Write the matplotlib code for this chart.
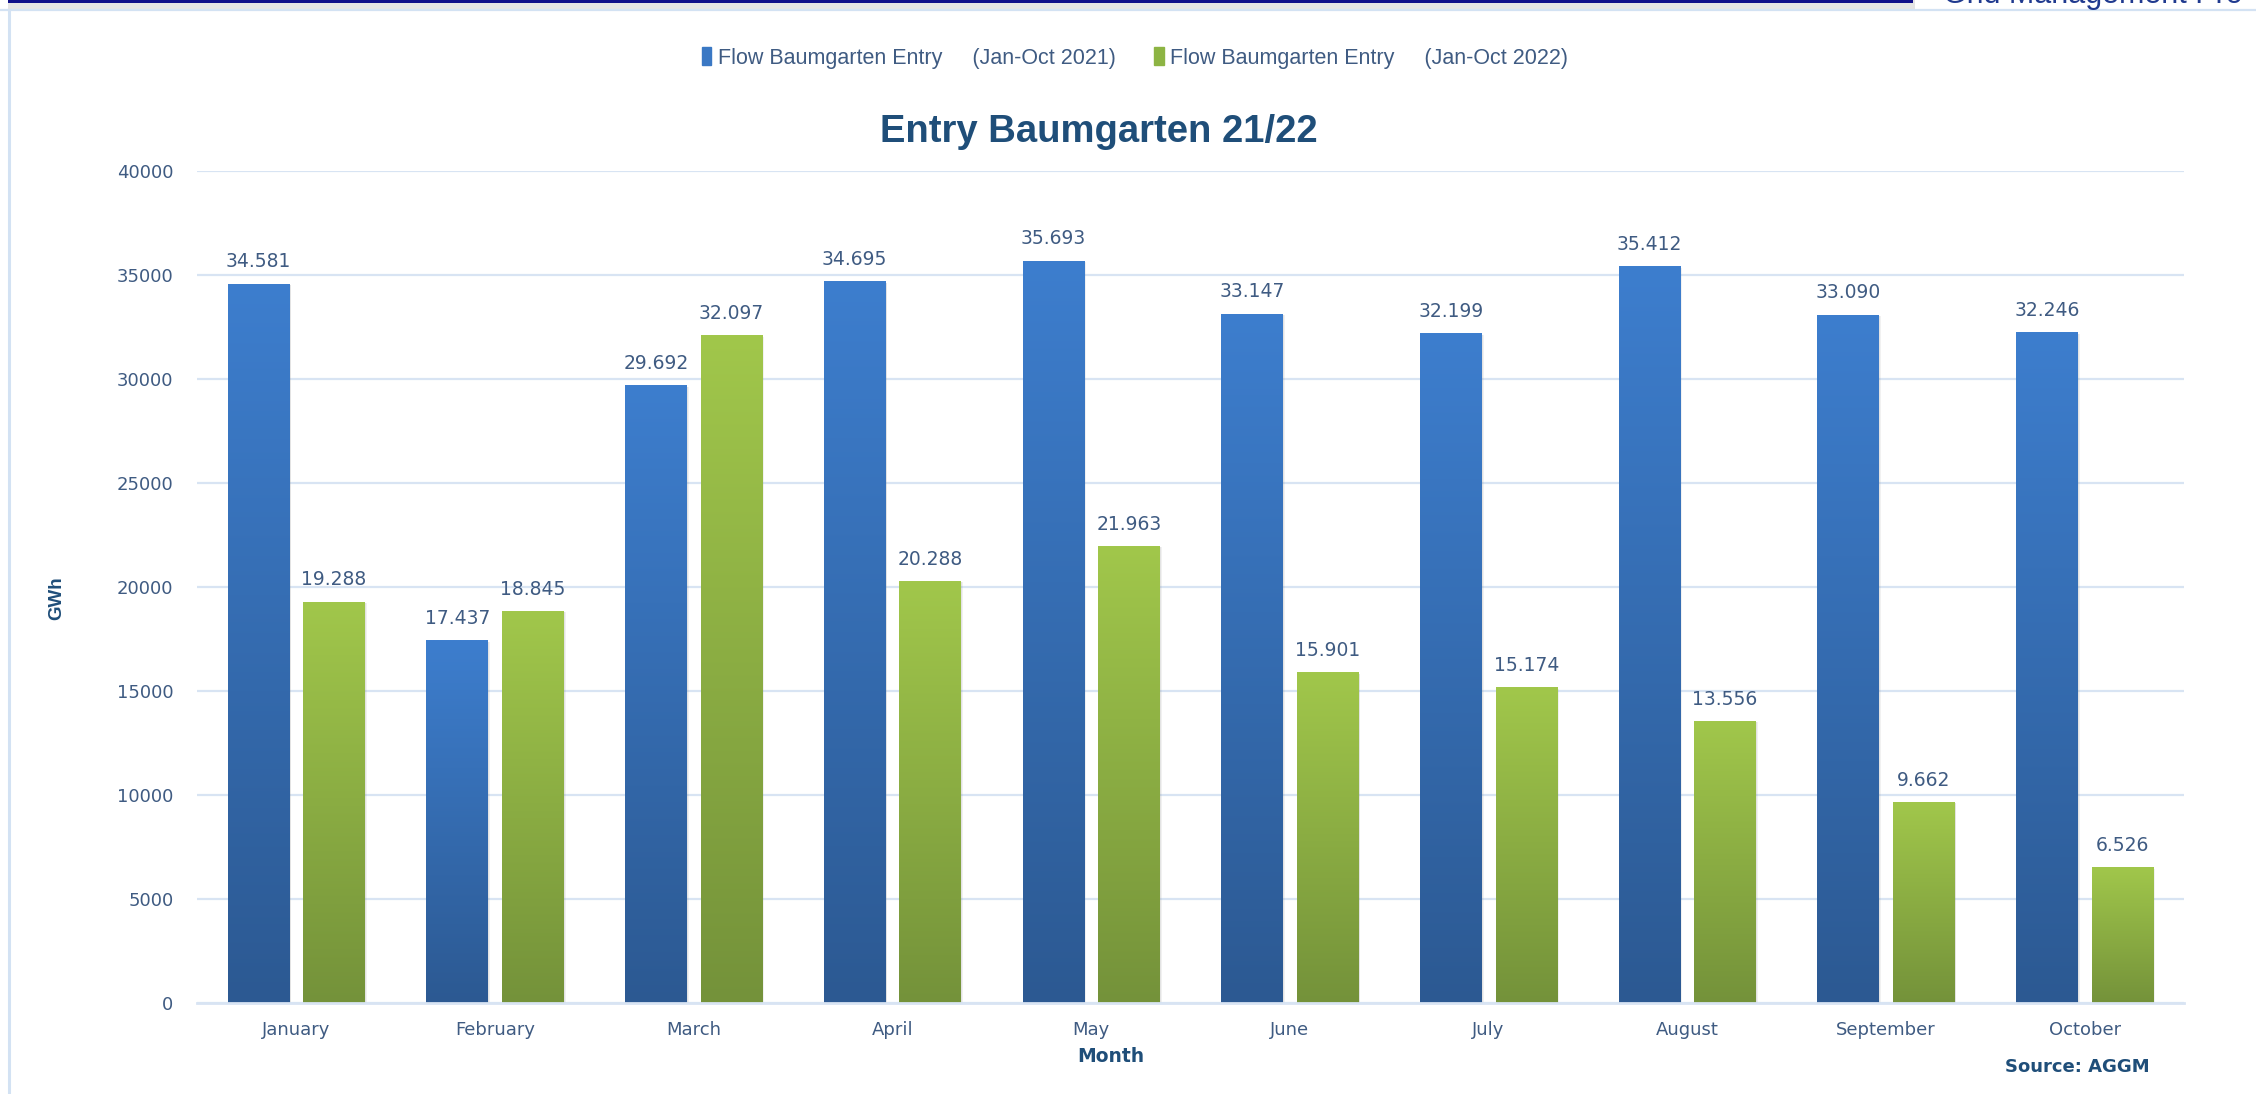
import numpy as np
import matplotlib
matplotlib.use("Agg")
import matplotlib.pyplot as plt
from matplotlib.colors import LinearSegmentedColormap
from matplotlib.patches import Rectangle
from matplotlib.lines import Line2D

# ---- data ----
months = ["January", "February", "March", "April", "May", "June",
          "July", "August", "September", "October"]
flow_2021 = [34581, 17437, 29692, 34695, 35693, 33147, 32199, 35412, 33090, 32246]
flow_2022 = [19288, 18845, 32097, 20288, 21963, 15901, 15174, 13556, 9662, 6526]
label_2021 = "Flow Baumgarten Entry     (Jan-Oct 2021)"
label_2022 = "Flow Baumgarten Entry     (Jan-Oct 2022)"
yticks = [0, 5000, 10000, 15000, 20000, 25000, 30000, 35000, 40000]

W, H = 2256, 1094
fig = plt.figure(figsize=(W / 100, H / 100), dpi=100)
fig.patch.set_facecolor("white")

NARROW = ["Liberation Sans Narrow", "Liberation Sans", "DejaVu Sans"]
TXT = "#3F5B82"
NAVY = "#1F4E79"
GRID = "#D8E4F3"

ax = fig.add_axes([197 / W, 1 - 1003 / H, (2184 - 197) / W, (1003 - 171) / H])
ax.set_facecolor("white")

x = np.arange(len(months))
bw = 0.31
off = 0.19

blue_cmap = LinearSegmentedColormap.from_list("b", ["#2C5992", "#3D7ECE"])
green_cmap = LinearSegmentedColormap.from_list("g", ["#74923A", "#A1C74B"])
grad = np.linspace(0, 1, 256).reshape(-1, 1)


def draw(vals, xs, cmap, mid):
    bars = ax.bar(xs, vals, width=bw, color=mid, zorder=3, linewidth=0)
    for b in bars:
        x0, w_, h_ = b.get_x(), b.get_width(), b.get_height()
        # soft shadow
        for k, a in [(0.010, 0.10), (0.006, 0.12)]:
            sh = Rectangle((x0 + k, 0), w_, h_ - 60, facecolor="#7F7F7F",
                           alpha=a, linewidth=0, zorder=2.5)
            ax.add_patch(sh)
        im = ax.imshow(grad, extent=[x0, x0 + w_, 0, h_], origin="lower",
                       aspect="auto", cmap=cmap, zorder=3.5,
                       interpolation="bilinear")
        im.set_clip_path(b)
    return bars


b1 = draw(flow_2021, x - off, blue_cmap, "#3670B8")
b2 = draw(flow_2022, x + off, green_cmap, "#8AAE42")

for bars, vals in [(b1, flow_2021), (b2, flow_2022)]:
    for b, v in zip(bars, vals):
        ax.annotate(f"{v:,}".replace(",", "."),
                    (b.get_x() + b.get_width() / 2, v),
                    xytext=(0, 9), textcoords="offset points",
                    ha="center", va="bottom", fontsize=13.5, color=TXT,
                    family="DejaVu Sans", zorder=5)

ax.set_xlim(-0.5, len(months) - 0.5)
ax.set_ylim(0, 40000)
ax.set_yticks(yticks)
ax.set_yticklabels([str(t) for t in yticks])
ax.set_xticks(x)
ax.set_xticklabels(months)
ax.tick_params(axis="y", length=0, pad=17, labelsize=13, labelcolor=TXT)
ax.tick_params(axis="x", length=0, pad=13, labelsize=13, labelcolor=TXT)
ax.yaxis.grid(True, color=GRID, linewidth=1.6, zorder=0)
ax.set_axisbelow(True)
for s in ["top", "right", "left"]:
    ax.spines[s].set_visible(False)
ax.spines["bottom"].set_color(GRID)
ax.spines["bottom"].set_linewidth(2)
ax.spines["bottom"].set_zorder(4)

# legend
handles = [Rectangle((0, 0), 1, 1, color="#3A78C4"),
           Rectangle((0, 0), 1, 1, color="#8DB443")]
fig.legend(handles, [label_2021, label_2022], loc="center",
           bbox_to_anchor=(1135 / W, 1 - 58 / H), ncol=2, frameon=False,
           prop={"family": NARROW, "size": 15.5}, labelcolor=TXT,
           handlelength=0.45, handleheight=0.9, handletextpad=0.3,
           columnspacing=1.8)

# titles
fig.text(1099 / W, 1 - 132 / H, "Entry Baumgarten 21/22", ha="center",
         va="center", fontsize=27.5, fontweight="bold", color=NAVY,
         family=NARROW)
fig.text(57 / W, 1 - 598 / H, "GWh", ha="center", va="center", rotation=90,
         fontsize=13.5, fontweight="bold", color=NAVY, family=NARROW)
fig.text(1111 / W, 1 - 1057 / H, "Month", ha="center", va="center",
         fontsize=13.5, fontweight="bold", color=NAVY, family="DejaVu Sans")
fig.text(2077 / W, 1 - 1067 / H, "Source: AGGM", ha="center", va="center",
         fontsize=13, fontweight="bold", color=NAVY, family="DejaVu Sans")

# page frame decorations
fig.add_artist(Rectangle((8 / W, 1 - 9 / H), (1915 - 8) / W, 9 / H,
                         transform=fig.transFigure, facecolor="#E4E4E4",
                         edgecolor="none", zorder=1))
fig.add_artist(Rectangle((8 / W, 1 - 2.7 / H), (1913 - 8) / W, 2.7 / H,
                         transform=fig.transFigure, facecolor="#10108A",
                         edgecolor="none", zorder=2))
fig.add_artist(Line2D([0, 1], [1 - 10 / H, 1 - 10 / H],
                      transform=fig.transFigure, color="#D3E2F3", lw=1.6))
fig.add_artist(Line2D([8.5 / W, 8.5 / W], [0, 1 - 10 / H],
                      transform=fig.transFigure, color="#D3E2F3", lw=2.2))
fig.text(1943 / W, 1 - 3 / H, "Grid Management Pro", ha="left",
         va="baseline", fontsize=22, color="#203A8F", family=NARROW)

fig.savefig("out.png", dpi=100, facecolor="white")
